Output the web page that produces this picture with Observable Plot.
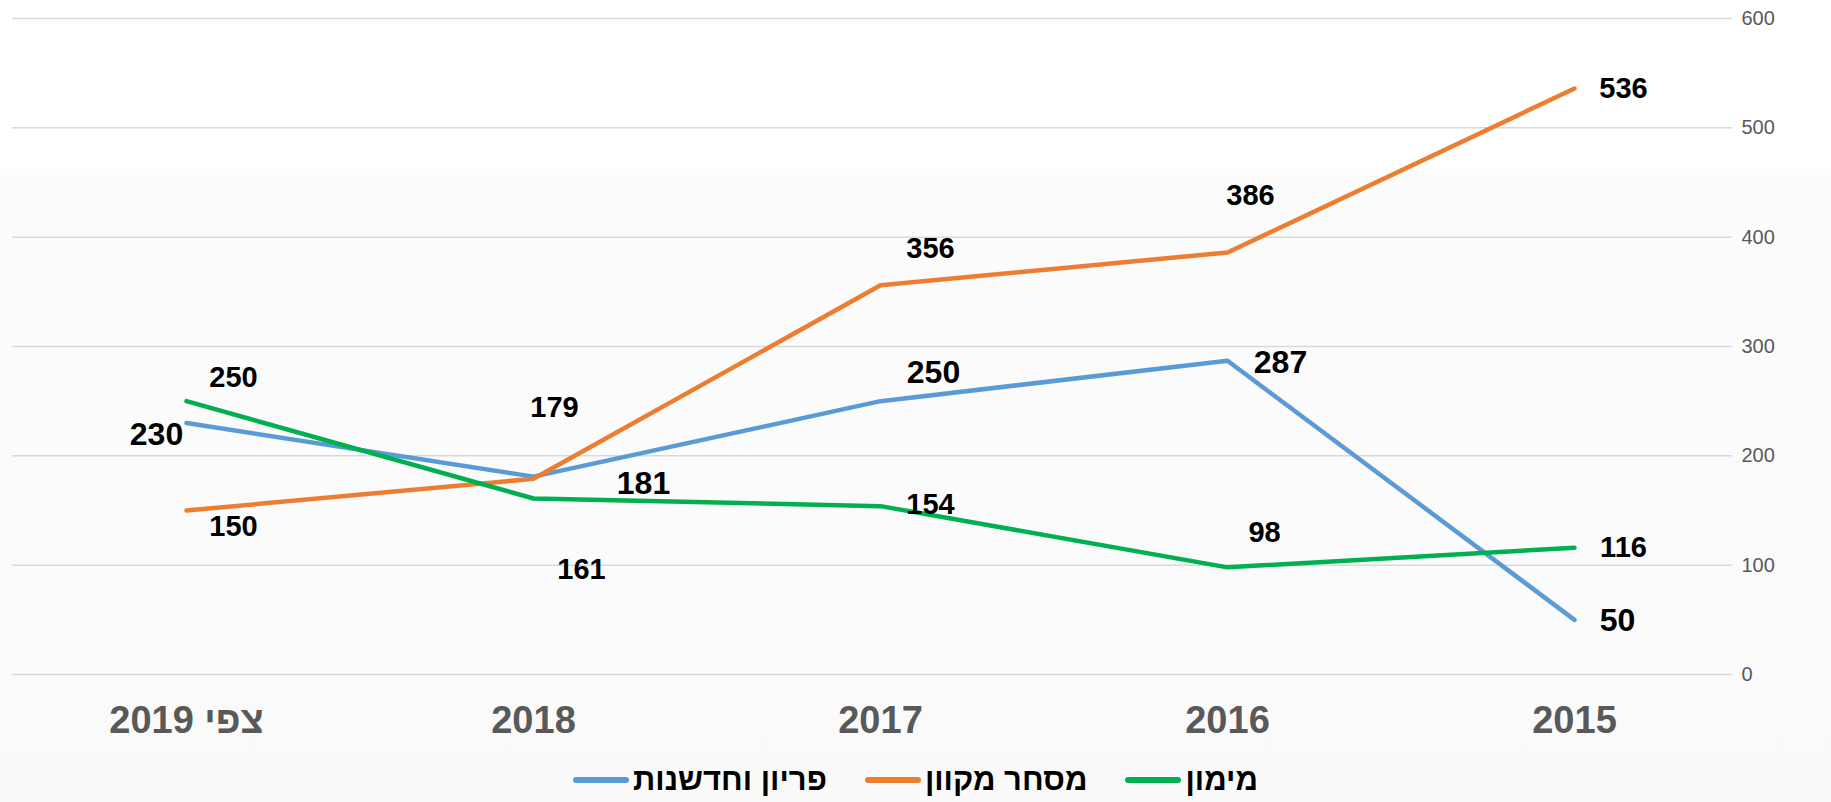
<!DOCTYPE html>
<html lang="he">
<head>
<meta charset="utf-8">
<script src="https://cdn.jsdelivr.net/npm/d3@7"></script>
<script src="https://cdn.jsdelivr.net/npm/@observablehq/plot@0.6"></script>
<style>
  html, body { margin: 0; padding: 0; }
  body {
    width: 1831px; height: 802px; overflow: hidden;
    background: linear-gradient(to bottom, #ffffff 0px, #ffffff 168px, #fcfcfc 170px, #fafafa 802px);
    font-family: "Liberation Sans", Arial, sans-serif;
  }
  #legend {
    display: flex; direction: rtl; justify-content: center; align-items: center;
    gap: 38px; height: 52px; margin-top: 4px;
  }
  .item { display: flex; align-items: center; gap: 4px; }
  .item span.t { font-weight: bold; font-size: 31px; color: #000; }
  .item span.s { display: inline-block; width: 56px; height: 6px; border-radius: 3px; }
</style>
</head>
<body>
<div id="chart"></div>
<div id="legend"></div>
<script>
// Categories (left to right as drawn)
const categories = ["צפי 2019", "2018", "2017", "2016", "2015"];
// Series names
const seriesNames = ["פריון וחדשנות", "מסחר מקוון", "מימון"];
// Series values, aligned with categories
const productivity = [230, 181, 250, 287, 50];
const ecommerce   = [150, 179, 356, 386, 536];
const financing   = [250, 161, 154, 98, 116];
const yTicks = [0, 100, 200, 300, 400, 500, 600];

const seriesValues = [productivity, ecommerce, financing];
const colors = ["#5b9bd5", "#ed7d31", "#00b050"];
// Label placement (layout only), [dx, dy] per series per category
const labelOffsets = [
  [[-30, 12], [110, 7], [53, -28], [53, 2], [43, 1]],
  [[47, 16], [21, -71], [50, -37], [23, -57], [49, 0]],
  [[47, -23], [48, 71], [50, -1], [37, -35], [49, 0]]
];
const labelSizes = [32, 29, 29];

const rows = [];
seriesNames.forEach((s, si) => categories.forEach((c, ci) =>
  rows.push({series: s, si, ci, category: c, value: seriesValues[si][ci]})));

const labelMarks = [];
rows.forEach(r => {
  const [dx, dy] = labelOffsets[r.si][r.ci];
  labelMarks.push(Plot.text([r], {
    x: "category", y: "value", text: d => String(d.value),
    dx, dy, fontSize: labelSizes[r.si], fontWeight: "bold", fill: "#000",
    fontFamily: "Liberation Sans, Arial, sans-serif", textAnchor: "middle"
  }));
});

const chart = Plot.plot({
  width: 1831,
  height: 750,
  marginLeft: 12,
  marginRight: 99,
  marginTop: 18,
  marginBottom: 76,
  style: {background: "transparent", fontFamily: "Liberation Sans, Arial, sans-serif"},
  x: {type: "point", domain: categories, range: [186, 1574], padding: 0, label: null},
  y: {domain: [0, 600], label: null},
  marks: [
    Plot.gridY(yTicks, {stroke: "#d9d9d9", strokeOpacity: 1, strokeWidth: 1.5}),
    Plot.axisY(yTicks, {anchor: "right", tickSize: 0, tickPadding: 9, fontSize: 20, fill: "#595959", label: null}),
    Plot.axisX({anchor: "bottom", tickSize: 0, tickPadding: 32, fontSize: 38, fontWeight: "bold", fill: "#595959", label: null}),
    Plot.line(rows, {x: "category", y: "value", z: "series",
      stroke: d => colors[d.si], strokeWidth: 4.5, strokeLinecap: "round", strokeLinejoin: "round"}),
    ...labelMarks
  ]
});
document.getElementById("chart").appendChild(chart);

// Legend (RTL: first child on the right)
const legend = document.getElementById("legend");
[2, 1, 0].forEach(i => {
  const item = document.createElement("div");
  item.className = "item";
  const t = document.createElement("span");
  t.className = "t"; t.textContent = seriesNames[i];
  const s = document.createElement("span");
  s.className = "s"; s.style.background = colors[i];
  item.appendChild(t); item.appendChild(s);
  legend.appendChild(item);
});
</script>
</body>
</html>
